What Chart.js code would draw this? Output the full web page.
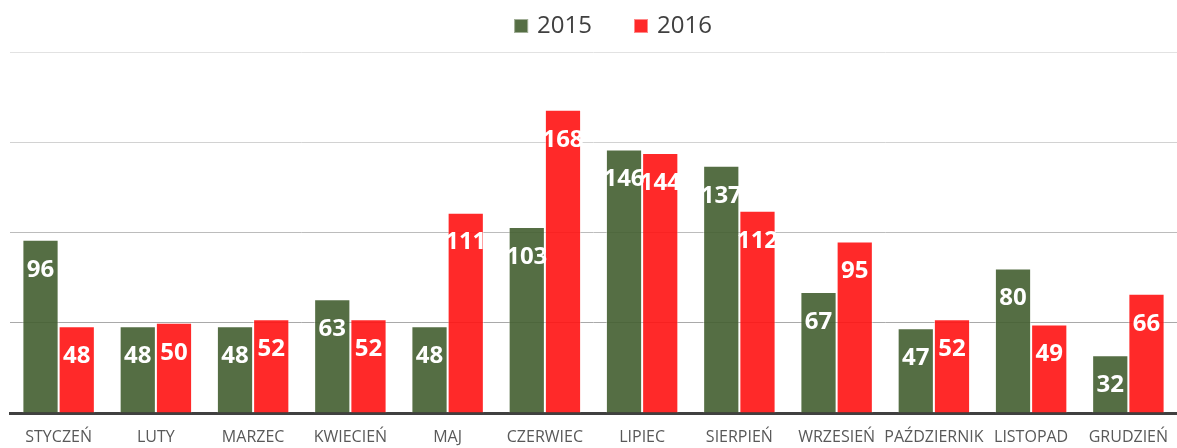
<!DOCTYPE html>
<html>
<head>
<meta charset="utf-8">
<script src="https://cdn.jsdelivr.net/npm/chart.js@4/dist/chart.umd.min.js"></script>
<style>
  html, body { margin: 0; padding: 0; background: #ffffff; overflow: hidden; }
</style>
</head>
<body>
<canvas id="c" width="1177" height="448" style="display:block;width:1177px;height:448px"></canvas>
<script>
const categories = ['STYCZEŃ','LUTY','MARZEC','KWIECIEŃ','MAJ','CZERWIEC','LIPIEC','SIERPIEŃ','WRZESIEŃ','PAŹDZIERNIK','LISTOPAD','GRUDZIEŃ'];
const seriesNames = ['2015','2016'];
const values2015 = [96,48,48,63,48,103,146,137,67,47,80,32];
const values2016 = [48,50,52,52,111,168,144,112,95,52,49,66];
const yTicks = [0,50,100,150,200];

const gridColors = {50:'#a9a9a9',100:'#bcbcbc',150:'#d2d2d2',200:'#e2e2e2'};

const legendPlugin = {
  id: 'customLegend',
  afterDraw(chart) {
    const ctx = chart.ctx;
    ctx.save();
    ctx.font = '24px "Open Sans"';
    ctx.textBaseline = 'middle';
    ctx.textAlign = 'left';
    const box = 14, gap = 9, itemGap = 42;
    const items = chart.data.datasets.map(ds => ({label: ds.label, color: ds.legendColor, w: ctx.measureText(ds.label).width}));
    let total = 0;
    items.forEach((it, i) => { total += box + gap + it.w + (i ? itemGap : 0); });
    let x = 613 - total / 2;
    const cy = 26;
    items.forEach(it => {
      ctx.fillStyle = it.color;
      ctx.fillRect(x, cy - box/2, box, box);
      ctx.strokeStyle = 'rgba(255,255,255,0.45)';
      ctx.lineWidth = 1;
      ctx.strokeRect(x + 0.5, cy - box/2 + 0.5, box - 1, box - 1);
      ctx.fillStyle = '#404040';
      ctx.fillText(it.label, x + box + gap, cy);
      x += box + gap + it.w + itemGap;
    });
    ctx.restore();
  }
};

const labelPlugin = {
  id: 'barLabels',
  afterDatasetsDraw(chart) {
    const ctx = chart.ctx;
    ctx.save();
    ctx.font = 'bold 24px "Open Sans"';
    ctx.fillStyle = '#ffffff';
    ctx.textAlign = 'center';
    ctx.textBaseline = 'middle';
    chart.data.datasets.forEach((ds, di) => {
      const meta = chart.getDatasetMeta(di);
      meta.data.forEach((bar, i) => {
        ctx.fillText(String(ds.data[i]), bar.x, bar.y + 30);
      });
    });
    ctx.restore();
  }
};

new Chart(document.getElementById('c'), {
  type: 'bar',
  data: {
    labels: categories,
    datasets: [
      { label: seriesNames[0], data: values2015,
        backgroundColor: 'rgba(67,94,48,0.9)', legendColor: 'rgba(67,94,48,0.9)',
        borderColor: 'rgba(255,255,255,0.45)', borderWidth: 1,
        categoryPercentage: 0.745, barPercentage: 1 },
      { label: seriesNames[1], data: values2016,
        backgroundColor: 'rgba(255,18,18,0.9)', legendColor: 'rgba(255,18,18,0.9)',
        borderColor: 'rgba(255,255,255,0.45)', borderWidth: 1,
        categoryPercentage: 0.745, barPercentage: 1 }
    ]
  },
  options: {
    responsive: false,
    maintainAspectRatio: false,
    animation: false,
    layout: { padding: { top: 52, left: 10, right: 0, bottom: 0 } },
    plugins: { legend: { display: false }, tooltip: { enabled: false } },
    scales: {
      x: {
        grid: { display: false, drawTicks: false },
        border: { display: true, color: '#404040', width: 3 },
        ticks: { color: '#595959', font: { family: 'Open Sans', size: 16 }, padding: 15, maxRotation: 0, autoSkip: false },
        afterFit(axis) { axis.height = 35; axis.paddingLeft = 0; axis.paddingRight = 0; }
      },
      y: {
        min: yTicks[0], max: yTicks[yTicks.length - 1],
        afterBuildTicks(axis) { axis.ticks = yTicks.map(v => ({ value: v })); },
        ticks: { display: false },
        border: { display: false },
        grid: { drawTicks: false, lineWidth: 1, color: ctx => gridColors[ctx.tick && ctx.tick.value] || 'rgba(0,0,0,0)' },
        afterFit(axis) { axis.width = 0; axis.paddingTop = 0; axis.paddingBottom = 0; }
      }
    }
  },
  plugins: [legendPlugin, labelPlugin]
});
</script>
</body>
</html>
